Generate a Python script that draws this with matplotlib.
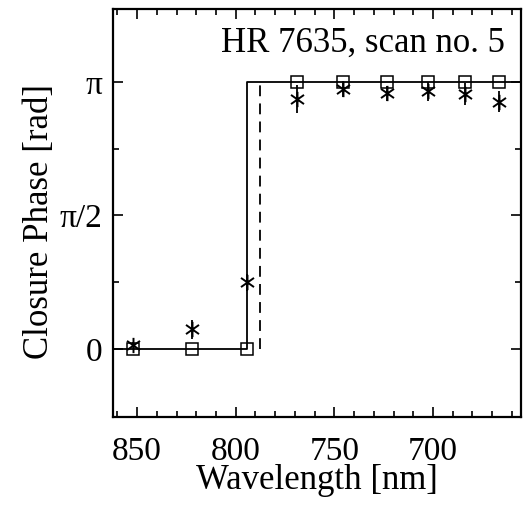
import numpy as np
import matplotlib
matplotlib.use("Agg")
import matplotlib.pyplot as plt
from matplotlib.ticker import FixedLocator, MultipleLocator
from matplotlib.path import Path

# Spectral channels of scan no. 5 (nm)
wavelength = [852.2, 822.0, 794.4, 768.8, 745.6, 723.3, 702.5, 683.8, 666.5]
# Measured closure phase (rad) and its 1-sigma error
cp_obs = [0.05, 0.23, 0.785, 2.94, 3.06, 3.01, 3.03, 3.00, 2.91]
cp_err = [0.03, 0.11, 0.10, 0.16, 0.09, 0.09, 0.11, 0.13, 0.12]
# Model closure phase at each channel (rad)
cp_model = [0.0, 0.0, 0.0, np.pi, np.pi, np.pi, np.pi, np.pi, np.pi]
# Wavelength where the phase jumps in the model and in the alternative fit
jump_model = 794.4
jump_alt = 787.9

xlim = (862.2, 655.4)
ylim = (-0.8, 4.0)
ytick_vals = [0, np.pi / 2, np.pi]
ytick_text = ["0", "π/2", "π"]
xtick_vals = [850, 800, 750, 700]

plt.rcParams["font.family"] = ["Liberation Serif", "DejaVu Serif"]

# asterisk: one vertical stroke and two diagonals
star = Path([(0, -1), (0, 1), (-0.85, -0.6), (0.85, 0.6), (-0.85, 0.6), (0.85, -0.6)],
            [Path.MOVETO, Path.LINETO, Path.MOVETO, Path.LINETO, Path.MOVETO, Path.LINETO])

fig = plt.figure(figsize=(5.31, 5.05), dpi=100)
ax = fig.add_axes([113 / 531, 1 - 417 / 505, (521 - 113) / 531, (417 - 9) / 505])

# model: step from 0 to pi
ax.plot([xlim[0], jump_model, jump_model, xlim[1]], [0, 0, np.pi, np.pi],
        color="black", lw=1.3, zorder=2)
# alternative model: dashed jump
ax.plot([jump_alt, jump_alt], [0, np.pi], color="black", lw=1.3,
        dashes=(6, 4), zorder=2)

# model values at the channels
ax.plot(wavelength, cp_model, linestyle="none", marker="s", ms=8.5,
        mfc="none", mec="black", mew=1.1, zorder=3)

# observations with error bars
ax.errorbar(wavelength, cp_obs, yerr=cp_err, fmt="none", ecolor="black",
            elinewidth=1.3, capsize=0, zorder=3)
ax.plot(wavelength, cp_obs, linestyle="none", marker=star, ms=11,
        mec="black", mew=1.4, zorder=4)

ax.set_xlim(*xlim)
ax.set_ylim(*ylim)

ax.xaxis.set_major_locator(FixedLocator(xtick_vals))
ax.xaxis.set_minor_locator(MultipleLocator(10))
ax.yaxis.set_major_locator(FixedLocator(ytick_vals))
ax.yaxis.set_minor_locator(FixedLocator([np.pi / 4, 3 * np.pi / 4]))
ax.set_yticklabels(ytick_text)

ax.tick_params(which="both", direction="in", top=True, right=True,
               width=1.2, labelsize=24)
ax.tick_params(which="major", length=7)
ax.tick_params(which="minor", length=4)
ax.tick_params(axis="x", which="major", pad=14)
ax.tick_params(axis="y", which="major", pad=8)

for s in ax.spines.values():
    s.set_linewidth(1.6)

ax.set_xlabel("Wavelength [nm]", fontsize=25, labelpad=-2)
ax.set_ylabel("Closure Phase [rad]", fontsize=25, labelpad=2)
ax.yaxis.label.set_y(0.478)

ax.text(0.96, 0.915, "HR 7635, scan no. 5", transform=ax.transAxes,
        ha="right", va="center", fontsize=25)

fig.savefig("out.png", dpi=100)
